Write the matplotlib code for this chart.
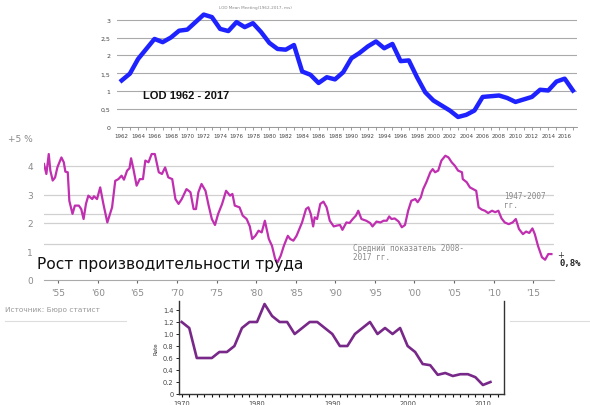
import numpy as np
import matplotlib
matplotlib.use("Agg")
import matplotlib.pyplot as plt

# --- top chart: LOD 1962-2017
lod_years = list(range(1962, 2018))
lod_vals = [1.30, 1.49, 1.90, 2.18, 2.46, 2.37, 2.50, 2.69, 2.72, 2.93,
            3.14, 3.07, 2.74, 2.68, 2.93, 2.79, 2.90, 2.65, 2.35, 2.18,
            2.16, 2.29, 1.55, 1.46, 1.23, 1.39, 1.33, 1.53, 1.92, 2.07,
            2.25, 2.39, 2.20, 2.32, 1.84, 1.86, 1.39, 0.97, 0.74, 0.60,
            0.46, 0.28, 0.34, 0.46, 0.84, 0.86, 0.88, 0.81, 0.70, 0.77,
            0.84, 1.04, 1.02, 1.27, 1.35, 1.02]

# --- middle chart: labour productivity growth, %
prod_t = [1953.2, 1953.5, 1953.8, 1954.0, 1954.3, 1954.6, 1954.9, 1955.4, 1955.7, 1955.9,
          1956.2, 1956.4, 1956.8, 1957.1, 1957.6, 1957.9, 1958.2, 1958.5, 1958.8, 1959.3,
          1959.5, 1959.9, 1960.3, 1960.7, 1961.2, 1961.8, 1962.2, 1962.6, 1963.0, 1963.3,
          1963.7, 1964.0, 1964.2, 1964.5, 1964.9, 1965.3, 1965.7, 1966.0, 1966.4, 1966.8,
          1967.2, 1967.7, 1968.1, 1968.5, 1968.9, 1969.4, 1969.8, 1970.2, 1970.6, 1971.2,
          1971.7, 1972.1, 1972.4, 1972.7, 1973.1, 1973.6, 1974.0, 1974.4, 1974.8, 1975.2,
          1975.7, 1976.2, 1976.7, 1977.0, 1977.3, 1977.9, 1978.3, 1978.8, 1979.2, 1979.5,
          1979.9, 1980.3, 1980.7, 1981.1, 1981.6, 1982.0, 1982.4, 1982.7, 1983.1, 1983.5,
          1984.0, 1984.3, 1984.7, 1985.1, 1985.8, 1986.3, 1986.6, 1986.9, 1987.2, 1987.4,
          1987.7, 1988.1, 1988.5, 1988.9, 1989.3, 1989.8, 1990.2, 1990.6, 1990.9, 1991.4,
          1991.8, 1992.2, 1992.6, 1992.9, 1993.3, 1993.9, 1994.4, 1994.7, 1995.2, 1995.7,
          1996.1, 1996.5, 1996.8, 1997.1, 1997.5, 1998.0, 1998.4, 1998.8, 1999.2, 1999.6,
          2000.1, 2000.4, 2000.8, 2001.1, 2001.5, 2002.0, 2002.3, 2002.6, 2003.0, 2003.4,
          2003.9, 2004.3, 2004.7, 2005.1, 2005.5, 2006.0, 2006.1, 2006.6, 2007.0, 2007.4,
          2007.8, 2008.1, 2008.5, 2008.9, 2009.3, 2009.8, 2010.2, 2010.6, 2011.0, 2011.4,
          2011.9, 2012.4, 2012.8, 2013.2, 2013.7, 2014.1, 2014.5, 2014.9, 2015.2, 2015.6,
          2016.1, 2016.5, 2016.9, 2017.3]
prod_vals = [4.07, 3.72, 4.42, 3.84, 3.49, 3.60, 3.96, 4.30, 4.13, 3.80,
             3.78, 2.78, 2.32, 2.61, 2.61, 2.49, 2.14, 2.67, 2.96, 2.84,
             2.94, 2.84, 3.25, 2.67, 2.02, 2.55, 3.48, 3.54, 3.66, 3.52,
             3.84, 3.92, 4.27, 3.89, 3.31, 3.54, 3.54, 4.19, 4.13, 4.42,
             4.42, 3.78, 3.72, 3.95, 3.60, 3.54, 2.84, 2.67, 2.84, 3.19,
             3.08, 2.49, 2.49, 3.08, 3.37, 3.13, 2.61, 2.14, 1.93, 2.32,
             2.67, 3.13, 2.96, 3.02, 2.61, 2.55, 2.26, 2.14, 1.88, 1.44,
             1.55, 1.73, 1.67, 2.08, 1.44, 1.20, 0.74, 0.62, 0.85, 1.20,
             1.55, 1.44, 1.38, 1.55, 2.02, 2.49, 2.55, 2.32, 1.88, 2.20,
             2.14, 2.67, 2.75, 2.55, 2.08, 1.88, 1.91, 1.93, 1.76, 2.02,
             2.00, 2.14, 2.26, 2.43, 2.14, 2.08, 2.00, 1.88, 2.05, 2.02,
             2.08, 2.08, 2.23, 2.14, 2.16, 2.05, 1.85, 1.93, 2.43, 2.78,
             2.84, 2.73, 2.90, 3.19, 3.43, 3.78, 3.89, 3.78, 3.84, 4.19,
             4.36, 4.30, 4.13, 4.01, 3.84, 3.78, 3.54, 3.43, 3.25, 3.19,
             3.13, 2.55, 2.47, 2.43, 2.35, 2.43, 2.38, 2.43, 2.16, 2.02,
             1.96, 2.02, 2.14, 1.79, 1.61, 1.70, 1.65, 1.81, 1.61, 1.20,
             0.80, 0.71, 0.91, 0.91]
avg_1947_2007 = 2.33
avg_2008_2017 = 1.26
prod_ticks = [1955, 1960, 1965, 1970, 1975, 1980, 1985, 1990, 1995, 2000, 2005, 2010, 2015]
prod_ticklabels = ["'55", "'60", "'65", "'70", "'75", "'80", "'85", "'90", "'95", "'00", "'05", "'10", "'15"]

# --- bottom chart: rate
rate_years = list(range(1970, 2012))
rate_vals = [1.2, 1.1, 0.6, 0.6, 0.6, 0.7, 0.7, 0.8, 1.1, 1.2,
             1.2, 1.5, 1.3, 1.2, 1.2, 1.0, 1.1, 1.2, 1.2, 1.1,
             1.0, 0.8, 0.8, 1.0, 1.1, 1.2, 1.0, 1.1, 1.0, 1.1,
             0.8, 0.7, 0.5, 0.48, 0.32, 0.35, 0.3, 0.33, 0.33, 0.28,
             0.15, 0.2]

W, H = 590, 406
fig = plt.figure(figsize=(W / 100, H / 100), dpi=100)

def box(x0, y0, x1, y1):
    # pixel box -> figure fraction
    return [x0 / W, 1 - y1 / H, (x1 - x0) / W, (y1 - y0) / H]

# ================= top =================
ax1 = fig.add_axes(box(117, 2.7, 577, 128))
ax1.plot(lod_years, lod_vals, color="#1e22ff", lw=3.2, solid_joinstyle="round", zorder=3)
ax1.set_xlim(1961.43, 2017.5)
ax1.set_ylim(0, 3.5)
ax1.set_yticks([0, 0.5, 1, 1.5, 2, 2.5, 3])
ax1.set_yticklabels(["0", "0,5", "1", "1,5", "2", "2,5", "3"], fontsize=4.5, color="#444444")
ax1.set_xticks(range(1962, 2017, 2))
ax1.set_xticklabels([str(y) for y in range(1962, 2017, 2)], fontsize=4, color="#444444")
ax1.set_xticks(range(1962, 2018), minor=True)
ax1.tick_params(axis="x", which="both", length=2, width=0.5, color="#777777", pad=2)
ax1.tick_params(axis="y", length=0, pad=5)
ax1.yaxis.grid(True, color="#aaaaaa", lw=0.8)
for s in ["top", "right", "left"]:
    ax1.spines[s].set_visible(False)
ax1.spines["bottom"].set_color("#888888")
ax1.spines["bottom"].set_linewidth(0.6)
ax1.patch.set_alpha(0)
ax1.text(1964.6, 0.8, "LOD 1962 - 2017", fontsize=8, fontweight="bold",
         family="Liberation Sans", color="#111111")
fig.text(255 / W, 1 - 8 / H, "LOD Mean Meeting(1962-2017, ms)", fontsize=3,
         color="#888888", ha="center", va="center")

# ================= middle =================
ax2 = fig.add_axes(box(44, 132.8, 553.8, 281))
ax2.patch.set_alpha(0)
ax2.plot(prod_t, prod_vals, color="#bf2fb0", lw=1.6, zorder=3)
ax2.set_xlim(1953.2, 2017.6)
ax2.set_ylim(0, 5.2)
for v in [2, 3, 4, avg_1947_2007, avg_2008_2017]:
    ax2.axhline(v, color="#d0d0d0", lw=0.9, zorder=1)
ax2.set_yticks([0, 1, 2, 3, 4, 5])
ax2.set_yticklabels(["0", "1", "2", "3", "4", "+5 %"], fontsize=6.5, color="#8a8a8a")
ax2.set_xticks(prod_ticks)
ax2.set_xticklabels(prod_ticklabels, fontsize=6.5, color="#8a8a8a")
ax2.tick_params(axis="x", length=2.5, width=0.8, color="#666666", pad=3)
ax2.tick_params(axis="y", length=0, pad=8)
for s in ["top", "right", "left"]:
    ax2.spines[s].set_visible(False)
ax2.spines["bottom"].set_color("#aaaaaa")
ax2.text(2011.3, 2.55, "1947-2007\nгг.", fontsize=5.5, color="#888888",
         family="DejaVu Sans Mono", linespacing=1.0)
ax2.text(1992.2, 0.72, "Средний показатель 2008-\n2017 гг.", fontsize=5.5,
         color="#888888", family="DejaVu Sans Mono", linespacing=1.0)
fig.text(557 / W, 1 - 256 / H, "+", fontsize=6, color="#333333", ha="left", va="center")
fig.text(559 / W, 1 - 264 / H, "0,8%", fontsize=6.5, color="#222222",
         fontweight="bold", ha="left", va="center", family="DejaVu Sans Mono")
fig.text(37 / W, 1 - 265 / H, "Рост производительности труда", fontsize=11.2,
         color="#111111", ha="left", va="center")

# ================= bottom =================
ax3 = fig.add_axes(box(179, 302, 504, 395))
ax3.plot(rate_years, rate_vals, color="#782888", lw=1.9, zorder=3)
ax3.set_xlim(1969.64, 2012.8)
ax3.set_ylim(0, 1.55)
ax3.set_yticks([0, 0.2, 0.4, 0.6, 0.8, 1.0, 1.2, 1.4])
ax3.set_yticklabels(["0", "0.2", "0.4", "0.6", "0.8", "1.0", "1.2", "1.4"],
                    fontsize=4.8, color="#444444")
ax3.set_xticks([1970, 1980, 1990, 2000, 2010])
ax3.set_xticklabels(["1970", "1980", "1990", "2000", "2010"], fontsize=4.8, color="#444444")
ax3.set_xticks(range(1970, 2013), minor=True)
ax3.tick_params(axis="x", which="both", length=2.5, width=0.8, color="#111111", pad=1.5)
ax3.tick_params(axis="y", length=2, width=0.6, pad=2)
ax3.spines["top"].set_visible(False)
for s in ["left", "right", "bottom"]:
    ax3.spines[s].set_color("#333333")
    ax3.spines[s].set_linewidth(1.0)
ax3.set_ylabel("Rate", fontsize=4, color="#333333", labelpad=3)
ax3.patch.set_alpha(0)

fig.text(5 / W, 1 - 310 / H, "Источник: Бюро статист", fontsize=5.3, color="#999999",
         ha="left", va="center")
fig.add_artist(plt.Line2D([5 / W, 126 / W], [1 - 322 / H, 1 - 322 / H], color="#dddddd", lw=0.8))
fig.add_artist(plt.Line2D([510 / W, 1.0], [1 - 322 / H, 1 - 322 / H], color="#dddddd", lw=0.8))

fig.savefig("out.png", dpi=100)
